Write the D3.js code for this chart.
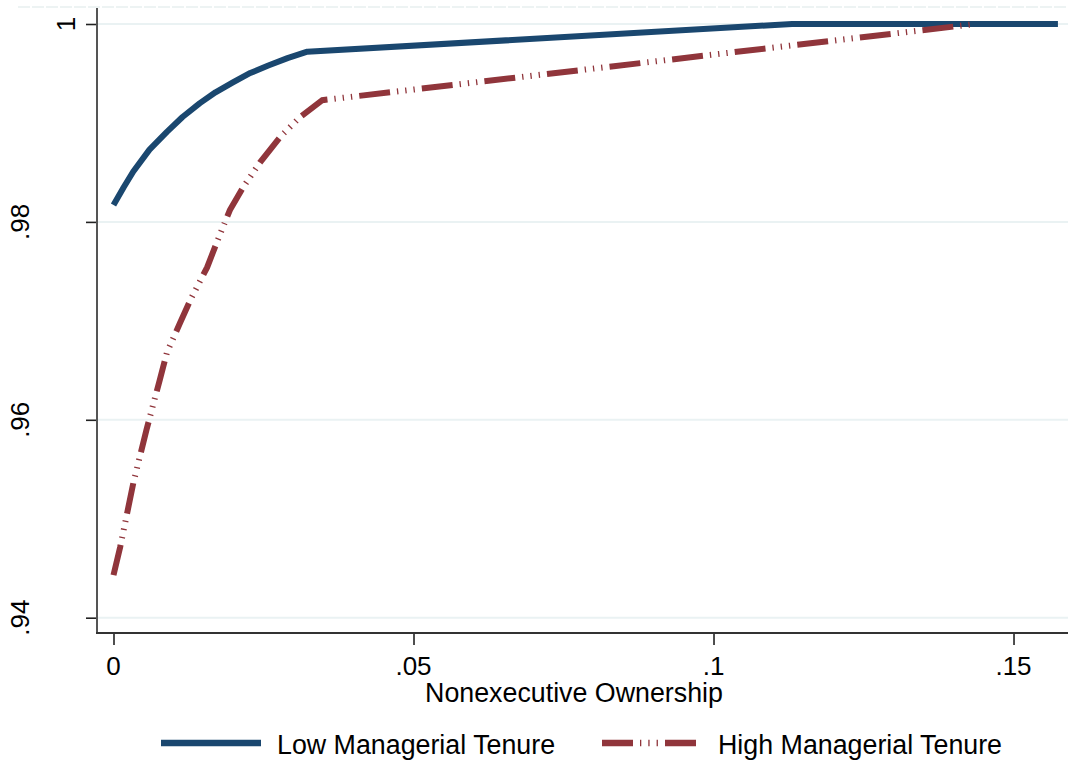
<!DOCTYPE html>
<html>
<head>
<meta charset="utf-8">
<script src="https://cdn.jsdelivr.net/npm/d3@7"></script>
<style>
  body { margin: 0; background: #fff; }
  svg { display: block; font-family: Arial, "Liberation Sans", sans-serif; }
</style>
</head>
<body>
<div id="chart"></div>
<script>
// values
const lowX = [0, 0.0017, 0.0033, 0.0060, 0.0089, 0.0115, 0.0144, 0.0170, 0.0199, 0.0228, 0.0258, 0.0290, 0.0323, 0.1131, 0.1574];
const lowY = [0.9817, 0.9835, 0.9851, 0.9873, 0.9891, 0.9906, 0.9920, 0.9931, 0.9941, 0.99505, 0.9958, 0.99655, 0.9972, 1.0, 1.0];
const highX = [0, 0.0011, 0.0033, 0.0055, 0.0077, 0.0089, 0.0111, 0.0128, 0.0156, 0.0172, 0.0194, 0.0216, 0.0244, 0.0278, 0.0311, 0.0348, 0.1437];
const highY = [0.9443, 0.9471, 0.9536, 0.9590, 0.9640, 0.9668, 0.9698, 0.9721, 0.9754, 0.9779, 0.9812, 0.9835, 0.9860, 0.9886, 0.9906, 0.9923, 1.0];
const xTicks = [0, 0.05, 0.1, 0.15];
const xTickLabels = ['0', '.05', '.1', '.15'];
const yTicks = [0.94, 0.96, 0.98, 1];
const yTickLabels = ['.94', '.96', '.98', '1'];
const seriesNames = ['Low Managerial Tenure', 'High Managerial Tenure'];
const xTitle = 'Nonexecutive Ownership';

const width = 1068;
const height = 775;
const plotLeft = 97, plotRight = 1068, plotTop = 7, plotBottom = 633;
const blue = '#1a476f';
const red = '#90353b';
const grid = '#eaf2f3';
const axisCol = '#555555';
const fontSize = 26.8;
const dashPattern = '31,7,1.3,7,1.3,7,1.3,7.1';

const svg = d3.select('#chart')
  .append('svg')
  .attr('width', width)
  .attr('height', height);

const xScale = d3.scaleLinear()
  .domain([-0.00275, 0.15908])
  .range([plotLeft, plotRight]);

const yScale = d3.scaleLinear()
  .domain([0.938453, 1.001718])
  .range([plotBottom, plotTop]);

// faint plot region outline at the top
svg.append('line')
  .attr('x1', 18).attr('x2', plotRight)
  .attr('y1', plotTop).attr('y2', plotTop)
  .attr('stroke', '#edf3f3')
  .attr('stroke-width', 2)
  .attr('stroke-dasharray', '12,2');

// grid lines
svg.append('g')
  .selectAll('line')
  .data(yTicks)
  .enter()
  .append('line')
  .attr('x1', plotLeft).attr('x2', plotRight)
  .attr('y1', (d) => yScale(d)).attr('y2', (d) => yScale(d))
  .attr('stroke', grid)
  .attr('stroke-width', 2);

// y axis
const yAxis = svg.append('g')
  .attr('transform', `translate(${plotLeft}, 0)`)
  .call(d3.axisLeft(yScale).tickValues(yTicks).tickSize(11).tickFormat(''));
yAxis.select('.domain').remove();
yAxis.selectAll('.tick line').attr('stroke', '#222').attr('stroke-width', 1.6);

svg.append('line')
  .attr('x1', plotLeft).attr('x2', plotLeft)
  .attr('y1', plotTop + 1).attr('y2', plotBottom + 1)
  .attr('stroke', axisCol)
  .attr('stroke-width', 2);

svg.append('g')
  .selectAll('text')
  .data(yTicks)
  .enter()
  .append('text')
  .attr('transform', (d, i) => {
    const bx = yTickLabels[i] === '1' ? plotLeft - 22 : plotLeft - 68;
    return `translate(${bx}, ${yScale(d)}) rotate(-90)`;
  })
  .attr('text-anchor', 'middle')
  .attr('font-size', 26)
  .attr('fill', '#000')
  .text((d, i) => yTickLabels[i]);

// x axis
const xAxis = svg.append('g')
  .attr('transform', `translate(0, ${plotBottom})`)
  .call(d3.axisBottom(xScale).tickValues(xTicks).tickSize(12).tickFormat(''));
xAxis.select('.domain').remove();
xAxis.selectAll('.tick line').attr('stroke', '#222').attr('stroke-width', 1.6);

svg.append('line')
  .attr('x1', plotLeft - 1).attr('x2', plotRight)
  .attr('y1', plotBottom).attr('y2', plotBottom)
  .attr('stroke', '#333')
  .attr('stroke-width', 2);

svg.append('g')
  .selectAll('text')
  .data(xTicks)
  .enter()
  .append('text')
  .attr('x', (d) => xScale(d))
  .attr('y', 675)
  .attr('text-anchor', 'middle')
  .attr('font-size', 26)
  .text((d, i) => xTickLabels[i]);

svg.append('text')
  .attr('x', 574)
  .attr('y', 702)
  .attr('text-anchor', 'middle')
  .attr('font-size', fontSize)
  .text(xTitle);

// lines
const line = d3.line()
  .x((d) => xScale(d[0]))
  .y((d) => yScale(d[1]));

const lowData = lowX.map((x, i) => [x, lowY[i]]);
const highData = highX.map((x, i) => [x, highY[i]]);

svg.append('path')
  .datum(lowData)
  .attr('d', line)
  .attr('fill', 'none')
  .attr('stroke', blue)
  .attr('stroke-width', 6)
  .attr('stroke-linejoin', 'round');

svg.append('path')
  .datum(highData)
  .attr('d', line)
  .attr('fill', 'none')
  .attr('stroke', red)
  .attr('stroke-width', 6)
  .attr('stroke-dasharray', dashPattern);

// legend
const legend = svg.append('g');
const legendItems = [
  {name: seriesNames[0], color: blue, dash: null, x1: 161, x2: 261, tx: 277},
  {name: seriesNames[1], color: red, dash: dashPattern, x1: 602, x2: 696, tx: 718}
];
legendItems.forEach((it) => {
  legend.append('line')
    .attr('x1', it.x1).attr('x2', it.x2)
    .attr('y1', 743).attr('y2', 743)
    .attr('stroke', it.color)
    .attr('stroke-width', 6.5)
    .attr('stroke-dasharray', it.dash);
  legend.append('text')
    .attr('x', it.tx)
    .attr('y', 754)
    .attr('font-size', fontSize)
    .text(it.name);
});
</script>
</body>
</html>
